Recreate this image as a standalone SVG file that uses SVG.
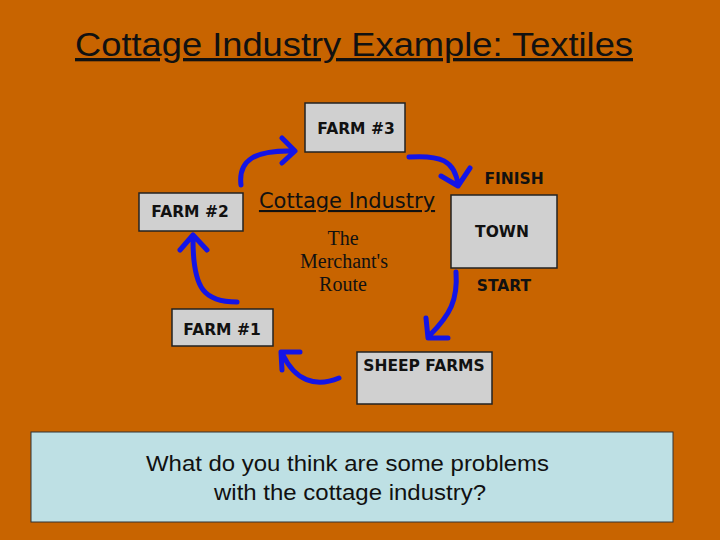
<svg xmlns="http://www.w3.org/2000/svg" width="720" height="540" viewBox="0 0 720 540">
<style>
.box{fill:#d0d0d0;stroke:#222;stroke-width:1.5}
.lbl{font-family:"DejaVu Sans",sans-serif;font-weight:bold;font-size:15.5px;fill:#111}
.arr{fill:none;stroke:#1414e6;stroke-width:5;stroke-linecap:round;stroke-linejoin:round}
</style>
<rect width="720" height="540" fill="#c86400"/>
<text x="75" y="56" textLength="558" lengthAdjust="spacingAndGlyphs" font-family="Liberation Sans,Arial,sans-serif" font-size="33" fill="#111" text-decoration="underline">Cottage Industry Example: Textiles</text>
<g id="farm3"><rect class="box" x="305" y="103" width="100" height="49"/><text class="lbl" x="356" y="134" text-anchor="middle">FARM #3</text></g>
<g id="farm2"><rect class="box" x="139" y="193" width="104" height="38"/><text class="lbl" x="190" y="217" text-anchor="middle">FARM #2</text></g>
<g id="town"><rect class="box" x="451" y="195" width="106" height="73"/><text class="lbl" x="502" y="237" text-anchor="middle">TOWN</text></g>
<g id="farm1"><rect class="box" x="172" y="309" width="101" height="37"/><text class="lbl" x="222" y="335" text-anchor="middle">FARM #1</text></g>
<g id="sheep"><rect class="box" x="357" y="352" width="135" height="52"/><text class="lbl" x="424" y="371" text-anchor="middle">SHEEP FARMS</text></g>
<text class="lbl" x="514" y="184" text-anchor="middle">FINISH</text>
<text class="lbl" x="504" y="291" text-anchor="middle">START</text>
<text x="347" y="208" text-anchor="middle" font-family="DejaVu Sans,sans-serif" font-size="21" fill="#111" text-decoration="underline">Cottage Industry</text>
<text font-family="Liberation Serif,serif" font-size="20" fill="#111" text-anchor="middle"><tspan x="343" y="245">The</tspan><tspan x="344" y="268">Merchant's</tspan><tspan x="343" y="291">Route</tspan></text>
<g id="connectors">
<path class="arr" d="M241,185 C238,160 255,150 293,151 M282,138 L295,151 L282,163"/>
<path class="arr" d="M409,157 C440,155 455,160 458,185 M441,176 L458,186 L470,168"/>
<path class="arr" d="M456,272 C458,300 450,315 430,335 M426,318 L428,338 L448,338"/>
<path class="arr" d="M339,378 C315,388 295,380 283,355 M282,370 L281,352 L300,352"/>
<path class="arr" d="M237,302 C205,302 193,290 193,240 M180,250 L193,235 L207,250"/>
</g>
<g id="question"><rect x="31" y="432" width="642" height="90" fill="#bee0e4" stroke="#333" stroke-width="1"/>
<text font-family="Liberation Sans,Arial,sans-serif" font-size="22" fill="#111"><tspan x="146" y="471" textLength="403" lengthAdjust="spacingAndGlyphs">What do you think are some problems</tspan><tspan x="214" y="500" textLength="272" lengthAdjust="spacingAndGlyphs">with the cottage industry?</tspan></text></g>
</svg>
